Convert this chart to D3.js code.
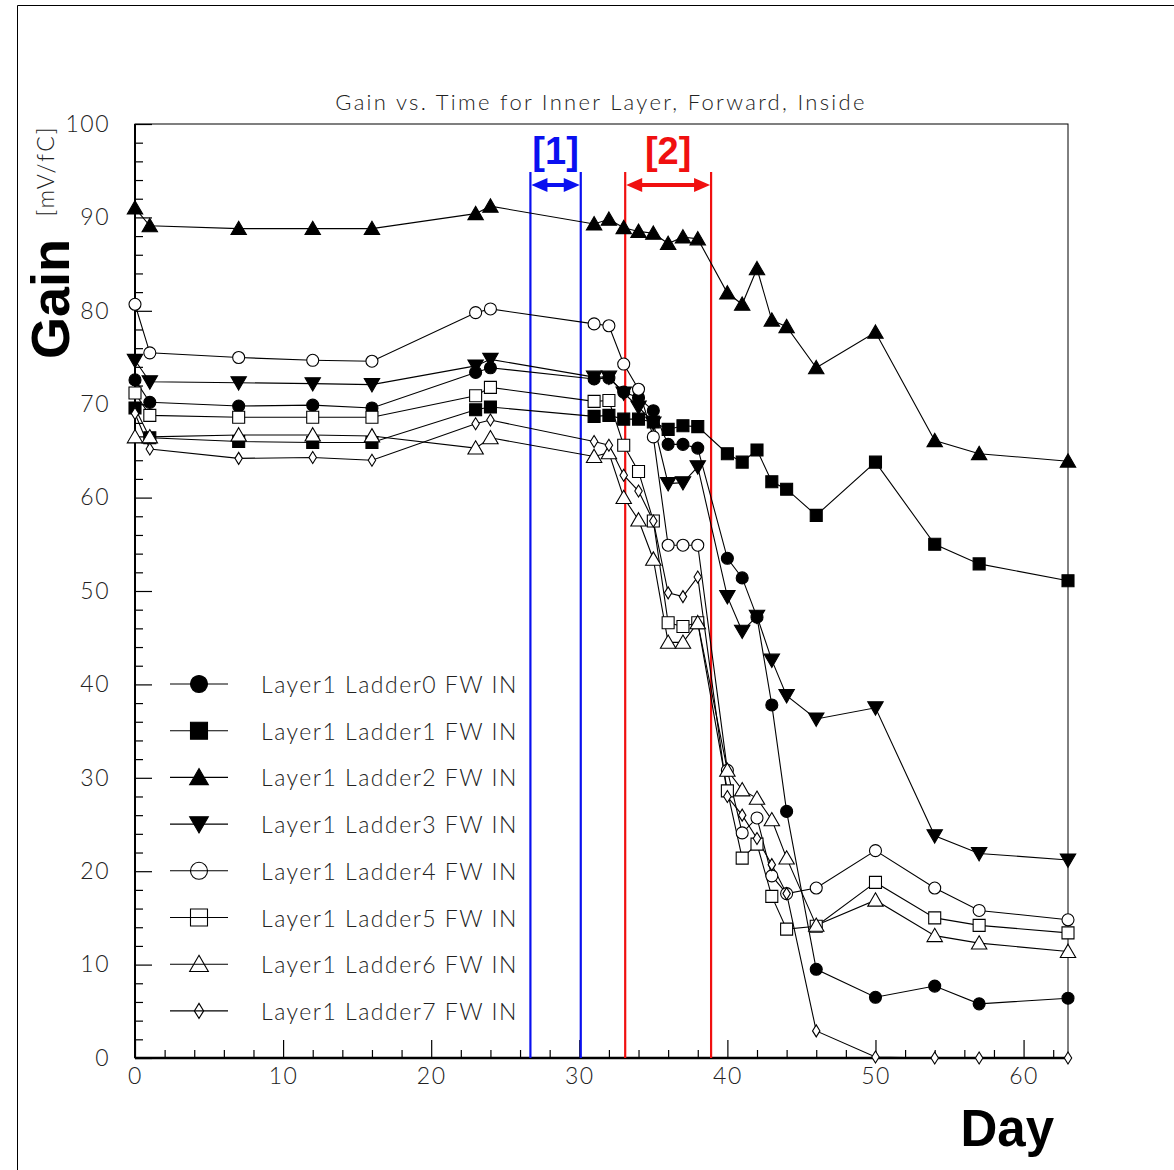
<!DOCTYPE html>
<html>
<head>
<meta charset="utf-8">
<script src="https://cdn.jsdelivr.net/npm/d3@7"></script>
<style>
  body{margin:0;background:#fff;}
  svg text{font-family:"Lato","DejaVu Sans",sans-serif;}
</style>
</head>
<body>
<div id="chart"></div>
<script>
// days on which the gain was measured
var days = [0,1,7,12,16,23,24,31,32,33,34,35,36,37,38,40,41,42,43,44,46,50,54,57,63];

// gain [mV/fC] per ladder
var ladder0 = [72.6,70.2,69.8,69.9,69.6,73.4,73.9,72.7,72.8,71.3,70.7,69.3,65.7,65.7,65.3,53.5,51.4,47.2,37.8,26.4,9.5,6.5,7.7,5.8,6.4];
var ladder1 = [69.6,66.4,66.0,65.9,65.9,69.4,69.7,68.7,68.8,68.4,68.4,68.1,67.3,67.7,67.6,64.7,63.8,65.1,61.7,60.9,58.1,63.8,55.0,52.9,51.1];
var ladder2 = [91.0,89.1,88.8,88.8,88.8,90.4,91.2,89.3,89.8,88.9,88.5,88.3,87.2,87.9,87.7,81.9,80.7,84.5,79.0,78.3,73.9,77.7,66.1,64.7,63.9];
var ladder3 = [74.7,72.4,72.3,72.2,72.1,74.1,74.8,72.9,72.9,71.2,69.7,68.0,61.5,61.6,63.3,49.4,45.7,47.3,42.6,38.8,36.3,37.5,23.8,21.9,21.2];
var ladder4 = [80.7,75.5,75.0,74.7,74.6,79.8,80.2,78.6,78.4,74.3,71.6,66.5,54.9,54.9,54.9,30.8,24.1,25.7,19.5,17.6,18.2,22.2,18.2,15.8,14.8];
var ladder5 = [71.2,68.8,68.6,68.6,68.6,70.9,71.8,70.3,70.4,65.6,62.8,57.5,46.6,46.2,46.6,28.6,21.4,22.9,17.3,13.8,14.1,18.8,15.0,14.2,13.4];
var ladder6 = [66.5,66.5,66.7,66.7,66.6,65.3,66.4,64.4,64.8,60.0,57.6,53.4,44.5,44.5,46.6,30.8,28.7,27.8,25.5,21.4,14.2,16.9,13.1,12.3,11.4];
var ladder7 = [69.0,65.2,64.2,64.3,64.0,67.9,68.3,66.0,65.6,62.4,60.7,57.5,49.8,49.4,51.5,28.0,26.0,23.5,20.7,17.6,2.9,0.1,0,0,0];

var seriesNames = ["Layer1 Ladder0 FW IN","Layer1 Ladder1 FW IN","Layer1 Ladder2 FW IN","Layer1 Ladder3 FW IN",
                   "Layer1 Ladder4 FW IN","Layer1 Ladder5 FW IN","Layer1 Ladder6 FW IN","Layer1 Ladder7 FW IN"];
var seriesValues = [ladder0,ladder1,ladder2,ladder3,ladder4,ladder5,ladder6,ladder7];

// marked periods (days)
var periodLabels = ["[1]","[2]"];
var periodStart = [26.7, 33.1];
var periodEnd = [30.1, 38.9];

var xTicks = [0,10,20,30,40,50,60];
var yTicks = [0,10,20,30,40,50,60,70,80,90,100];

// ---- layout / style ----
var W = 1174, H = 1170;
var plot = {left:135, right:1068, top:124, bottom:1058};
var periodColors = ["#0a10f0","#f01010"];
var markerKinds = ["circle","square","triangle","triangleDown","circleOpen","squareOpen","triangleOpen","diamondOpen"];
var thinFont = "Lato, DejaVu Sans, sans-serif";
var boldFont = "Liberation Sans, Arial, sans-serif";

var svg = d3.select("#chart").append("svg").attr("width",W).attr("height",H);

// outer frame
svg.append("path").attr("d","M17.5,"+H+" L17.5,5.5 L"+W+",5.5")
    .attr("fill","none").attr("stroke","#000").attr("stroke-width",1);

var x = d3.scaleLinear().domain([0,63]).range([plot.left,plot.right]);
var y = d3.scaleLinear().domain([0,100]).range([plot.bottom,plot.top]);

function markerPath(kind, s){
    var h = s/2;
    switch(kind){
        case "circle": case "circleOpen":
            return "M"+h+",0 A"+h+","+h+" 0 1,1 "+(-h)+",0 A"+h+","+h+" 0 1,1 "+h+",0Z";
        case "square": case "squareOpen":
            return "M"+(-h)+","+(-h)+"H"+h+"V"+h+"H"+(-h)+"Z";
        case "triangle": case "triangleOpen":
            return "M0,"+(-h*1.05)+"L"+(h*1.1)+","+(h*0.85)+"L"+(-h*1.1)+","+(h*0.85)+"Z";
        case "triangleDown":
            return "M0,"+(h*1.05)+"L"+(h*1.1)+","+(-h*0.85)+"L"+(-h*1.1)+","+(-h*0.85)+"Z";
        case "diamondOpen":
            return "M0,"+(-h)+"L"+(h*0.62)+",0L0,"+h+"L"+(-h*0.62)+",0Z";
    }
}
function isOpen(kind){ return /Open$/.test(kind); }
function markerSize(kind){
    if(kind==="triangle"||kind==="triangleDown"||kind==="triangleOpen") return 14;
    return 12;
}

// ---- axes ----
var axisG = svg.append("g");
axisG.append("rect").attr("x",plot.left).attr("y",plot.top)
    .attr("width",plot.right-plot.left).attr("height",plot.bottom-plot.top)
    .attr("fill","none").attr("stroke","#000").attr("stroke-width",1);
axisG.append("line").attr("x1",plot.left).attr("x2",plot.right)
    .attr("y1",plot.bottom).attr("y2",plot.bottom).attr("stroke","#000").attr("stroke-width",2.5);
axisG.append("line").attr("x1",plot.left).attr("x2",plot.left)
    .attr("y1",plot.top).attr("y2",plot.bottom).attr("stroke","#000").attr("stroke-width",2);

// y ticks (inward), minor every 2
var yAxis = d3.axisRight(y).tickValues(d3.range(0,101,2)).tickSize(0).tickFormat("");
var yg = axisG.append("g").attr("transform","translate("+plot.left+",0)").call(yAxis);
yg.select(".domain").remove();
yg.selectAll(".tick line").attr("x2",function(d){return d%10===0?17:8;})
    .attr("stroke","#000").attr("stroke-width",1.2);

var yLab = d3.axisLeft(y).tickValues(yTicks).tickSize(0).tickPadding(25);
var yl = axisG.append("g").attr("transform","translate("+plot.left+",0)").call(yLab);
yl.select(".domain").remove();
yl.selectAll(".tick text").attr("font-size",23).attr("font-weight",300).attr("fill","#222")
    .attr("letter-spacing",1.5).style("font-family",thinFont);

// x ticks (inward), minor every 2 days
var xAxis = d3.axisTop(x).tickValues(d3.range(0,63,2)).tickSize(0).tickFormat("");
var xg = axisG.append("g").attr("transform","translate(0,"+plot.bottom+")").call(xAxis);
xg.select(".domain").remove();
xg.selectAll(".tick line").attr("y2",function(d){return d%10===0?-18:-8;})
    .attr("stroke","#000").attr("stroke-width",1.2);

var xLab = d3.axisBottom(x).tickValues(xTicks).tickSize(0).tickPadding(10);
var xl = axisG.append("g").attr("transform","translate(0,"+plot.bottom+")").call(xLab);
xl.select(".domain").remove();
xl.selectAll(".tick text").attr("font-size",23).attr("font-weight",300).attr("fill","#222")
    .attr("letter-spacing",1.5).style("font-family",thinFont);

// axis titles
svg.append("text").attr("transform","translate(50,299) rotate(-90)")
    .attr("text-anchor","middle").attr("dominant-baseline","central")
    .attr("font-size",54).attr("font-weight",700)
    .style("font-family",boldFont).text("Gain");
svg.append("text").attr("transform","translate(45,171) rotate(-90)")
    .attr("text-anchor","middle").attr("dominant-baseline","central")
    .attr("font-size",23).attr("font-weight",300).attr("fill","#222")
    .attr("letter-spacing",2).style("font-family",thinFont).text("[mV/fC]");
svg.append("text").attr("x",1054).attr("y",1146).attr("text-anchor","end")
    .attr("font-size",51).attr("font-weight",700)
    .style("font-family",boldFont).text("Day");
svg.append("text").attr("x",601).attr("y",110).attr("text-anchor","middle")
    .attr("font-size",22).attr("font-weight",300).attr("fill","#222")
    .attr("letter-spacing",2.3).style("font-family",thinFont)
    .text("Gain vs. Time for Inner Layer, Forward, Inside");

// ---- marked periods ----
var arrowY = 185, lineTop = 172;
periodLabels.forEach(function(lab,i){
    var c = periodColors[i], x0 = x(periodStart[i]), x1 = x(periodEnd[i]);
    var g = svg.append("g");
    [x0,x1].forEach(function(xx){
        g.append("line").attr("x1",xx).attr("x2",xx).attr("y1",lineTop).attr("y2",plot.bottom)
            .attr("stroke",c).attr("stroke-width",2.2);
    });
    g.append("line").attr("x1",x0+10).attr("x2",x1-10).attr("y1",arrowY).attr("y2",arrowY)
        .attr("stroke",c).attr("stroke-width",4);
    g.append("path").attr("d","M"+(x0+1)+","+arrowY+"l16,-7v14z").attr("fill",c);
    g.append("path").attr("d","M"+(x1-1)+","+arrowY+"l-16,-7v14z").attr("fill",c);
    g.append("text").attr("x",(x0+x1)/2).attr("y",164).attr("text-anchor","middle")
        .attr("font-size",38).attr("font-weight",700).attr("fill",c)
        .style("font-family",boldFont).text(lab);
});

// ---- series ----
var line = d3.line().x(function(d){return x(d[0]);}).y(function(d){return y(d[1]);});
var dataG = svg.append("g");
seriesValues.forEach(function(vals){
    var pts = days.map(function(dd,k){return [dd, vals[k]];});
    dataG.append("path").datum(pts).attr("d",line)
        .attr("fill","none").attr("stroke","#000").attr("stroke-width",1.1);
});
seriesValues.forEach(function(vals,i){
    var kind = markerKinds[i];
    var pts = days.map(function(dd,k){return [dd, vals[k]];});
    dataG.selectAll(null).data(pts).enter().append("path")
        .attr("transform",function(d){return "translate("+x(d[0])+","+y(d[1])+")";})
        .attr("d",markerPath(kind, markerSize(kind)))
        .attr("fill",isOpen(kind)?"#fff":"#000")
        .attr("stroke","#000").attr("stroke-width",1.1);
});

// ---- legend ----
var legY0 = 684, legDy = 46.7;
var leg = svg.append("g");
seriesNames.forEach(function(name,i){
    var kind = markerKinds[i], yy = legY0 + i*legDy;
    leg.append("line").attr("x1",170).attr("x2",228).attr("y1",yy).attr("y2",yy)
        .attr("stroke","#000").attr("stroke-width",1.1);
    var s = kind==="diamondOpen" ? 15 : 17;
    leg.append("path").attr("transform","translate(199,"+yy+")")
        .attr("d",markerPath(kind,s))
        .attr("fill",isOpen(kind)?"none":"#000")
        .attr("stroke","#000").attr("stroke-width",1.1);
    leg.append("text").attr("x",261).attr("y",yy).attr("dominant-baseline","central")
        .attr("font-size",23).attr("font-weight",300).attr("fill","#222")
        .attr("letter-spacing",1.5).style("font-family",thinFont).text(name);
});
</script>
</body>
</html>
